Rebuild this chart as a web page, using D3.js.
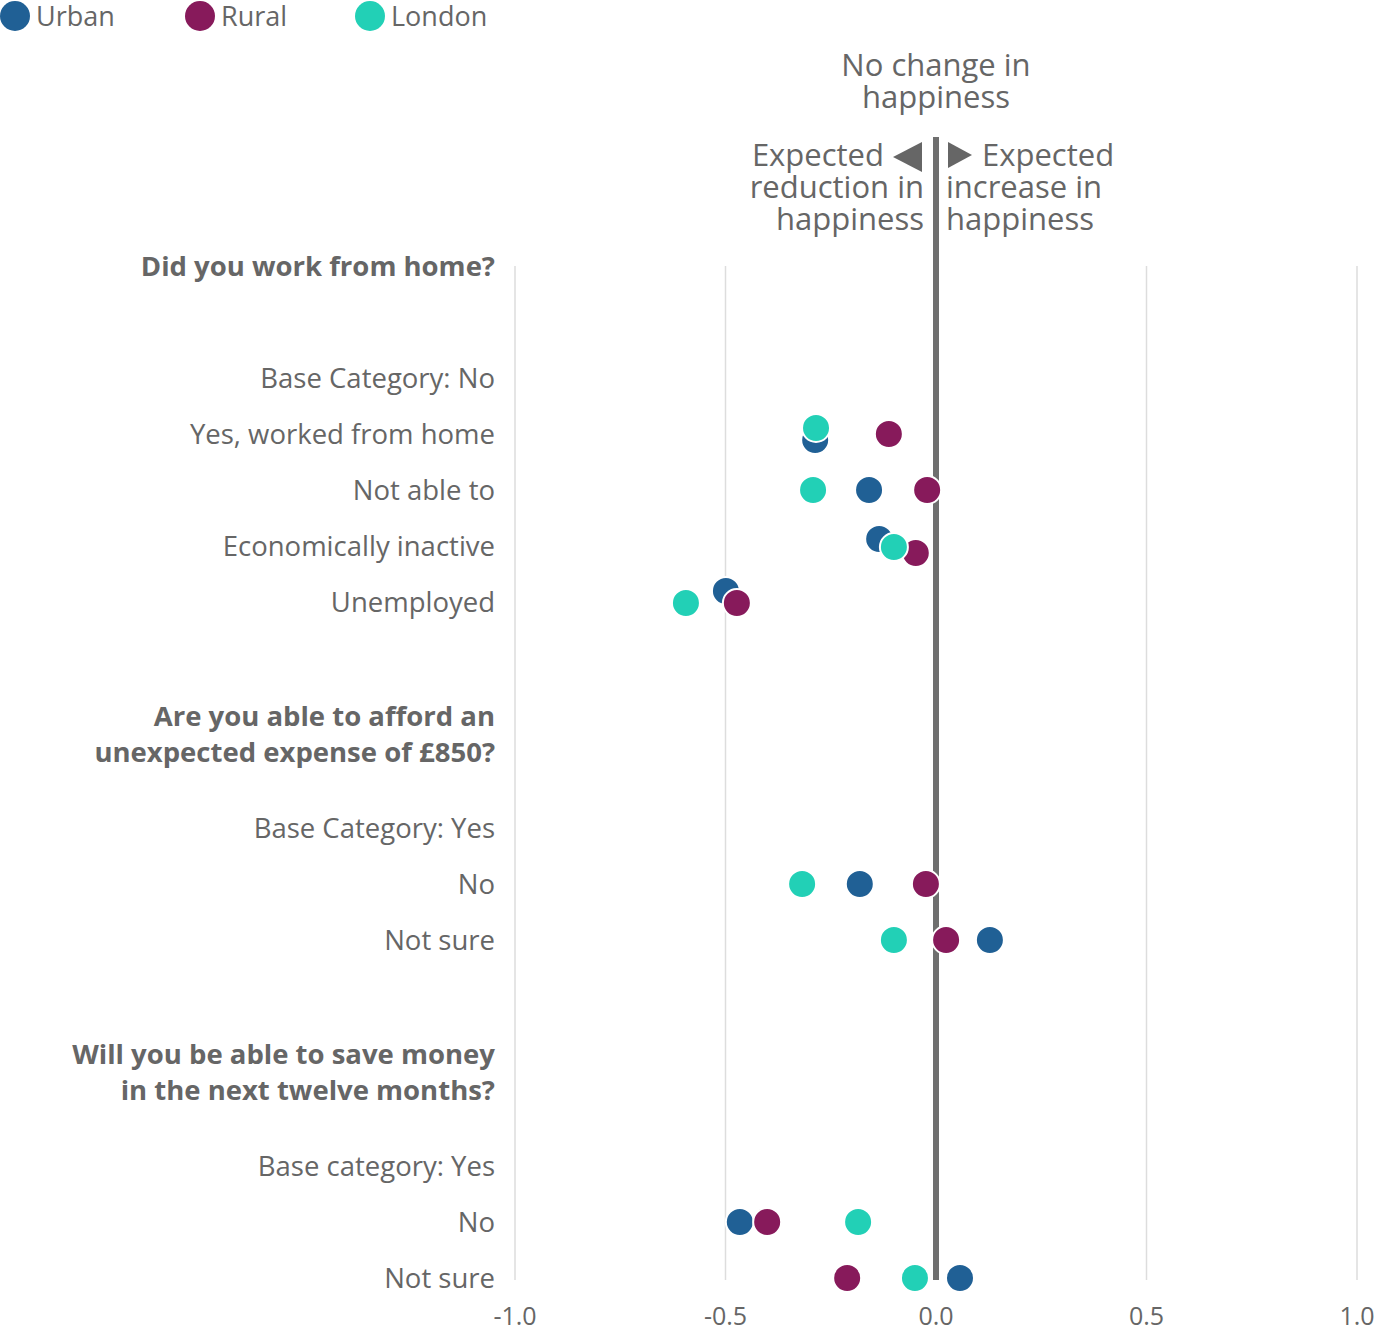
<!DOCTYPE html>
<html><head><meta charset="utf-8">
<script src="https://cdn.jsdelivr.net/npm/d3@7"></script>
<style>body{margin:0;background:#fff}text{font-family:"Open Sans",sans-serif}</style>
</head><body><svg id="c"></svg>
<script>
const rows = [
  {label: ["Did you work from home?"], bold: true},
  {label: ["Base Category: No"]},
  {label: ["Yes, worked from home"]},
  {label: ["Not able to"]},
  {label: ["Economically inactive"]},
  {label: ["Unemployed"]},
  {label: ["Are you able to afford an", "unexpected expense of £850?"], bold: true},
  {label: ["Base Category: Yes"]},
  {label: ["No"]},
  {label: ["Not sure"]},
  {label: ["Will you be able to save money", "in the next twelve months?"], bold: true},
  {label: ["Base category: Yes"]},
  {label: ["No"]},
  {label: ["Not sure"]}
];
const rowY = [266, 378, 434, 490, 546, 602, 734, 828, 884, 940, 1072, 1166, 1222, 1278];
const series = ["Urban", "Rural", "London"];
const colors = ["#206095", "#871A5B", "#22D0B6"];
// value per row index (null = none)
const urban  = [null, null, -0.287, -0.159, -0.135, -0.499, null, null, -0.181, 0.128, null, null, -0.466, 0.057];
const rural  = [null, null, -0.112, -0.021, -0.048, -0.473, null, null, -0.024, 0.024, null, null, -0.401, -0.211];
const london = [null, null, -0.285, -0.292, -0.100, -0.594, null, null, -0.318, -0.100, null, null, -0.185, -0.050];
// small vertical jitter used in the original to separate overlapping dots
const jitter = [
  [0, 0, 6, 0, -7, -11, 0, 0, 0, 0, 0, 0, 0, 0],
  [0, 0, 0, 0, 7, 1, 0, 0, 0, 0, 0, 0, 0, 0],
  [0, 0, -6, 0, 1, 1, 0, 0, 0, 0, 0, 0, 0, 0]
];
const ticks = [-1, -0.5, 0, 0.5, 1];

const W = 1376, H = 1329;
const svg = d3.select("#c").attr("width", W).attr("height", H);
const x = d3.scaleLinear().domain([-1, 1]).range([515, 1357]);
const grey = "#666666";

// gridlines
svg.selectAll(".grid").data(ticks.filter(t => t !== 0)).enter().append("line")
  .attr("x1", d => x(d)).attr("x2", d => x(d)).attr("y1", 266).attr("y2", 1280)
  .attr("stroke", "#dddddd").attr("stroke-width", 1.5);

// tick labels
svg.selectAll(".tick").data(ticks).enter().append("text")
  .attr("x", d => x(d)).attr("y", 1325).attr("text-anchor", "middle")
  .attr("font-size", 25).attr("fill", grey).text(d => d.toFixed(1));

// zero line
svg.append("line").attr("x1", x(0)).attr("x2", x(0)).attr("y1", 137).attr("y2", 1280)
  .attr("stroke", "#6f6f6f").attr("stroke-width", 6);

// row labels
rows.forEach((r, i) => {
  const t = svg.append("text").attr("x", 495).attr("text-anchor", "end")
    .attr("font-size", 27.5).attr("fill", grey).attr("font-weight", r.bold ? 700 : 400);
  const n = r.label.length;
  r.label.forEach((l, k) => {
    t.append("tspan").attr("x", 495).attr("y", rowY[i] + 10 + (k - (n - 1) / 2) * 36).text(l);
  });
});

// annotations
const ann = (lines, ax, ay, anchor) => {
  const t = svg.append("text").attr("text-anchor", anchor).attr("font-size", 31).attr("fill", grey);
  lines.forEach(([l, dx], k) => t.append("tspan").attr("x", ax + dx).attr("y", ay + k * 32).text(l));
};
ann([["No change in", 0], ["happiness", 0]], x(0), 76, "middle");
ann([["Expected", -40], ["reduction in", 0], ["happiness", 0]], 924, 166, "end");
ann([["Expected", 36], ["increase in", 0], ["happiness", 0]], 946, 166, "start");
svg.append("path").attr("d", "M922,142 L922,172 L893,157 Z").attr("fill", grey);
svg.append("path").attr("d", "M948,142 L948,168 L972,155 Z").attr("fill", grey);

// dots
[urban, rural, london].forEach((vals, s) => {
  svg.selectAll(".dot" + s).data(vals.map((v, i) => ({v, i})).filter(d => d.v !== null))
    .enter().append("circle")
    .attr("cx", d => x(d.v)).attr("cy", d => rowY[d.i] + jitter[s][d.i]).attr("r", 14)
    .attr("fill", colors[s]).attr("stroke", "#fff").attr("stroke-width", 2);
});

// legend
const lg = svg.selectAll(".lg").data(series).enter().append("g")
  .attr("transform", (d, i) => `translate(${[15, 200, 370][i]},16)`);
lg.append("circle").attr("r", 15).attr("fill", (d, i) => colors[i]);
lg.append("text").attr("x", 21).attr("y", 10).attr("font-size", 27).attr("fill", grey).text(d => d);
</script></body></html>
